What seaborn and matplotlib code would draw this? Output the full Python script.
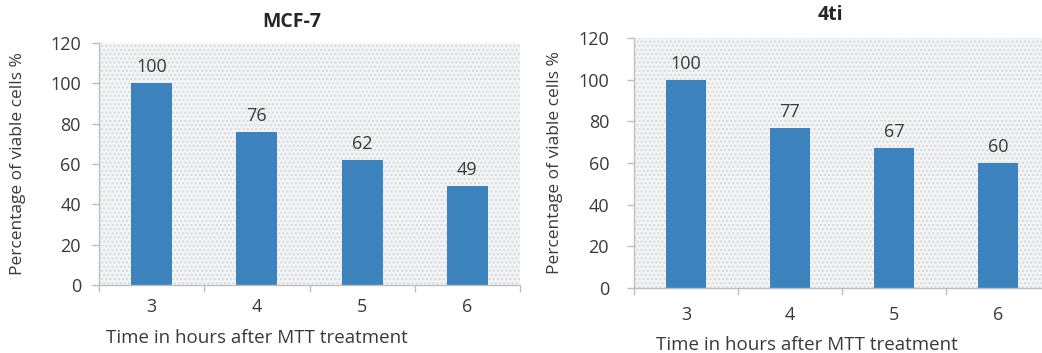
import matplotlib
matplotlib.use("Agg")
import matplotlib.pyplot as plt
import seaborn as sns
import pandas as pd

# Viability data (MTT assay)
hours = ["3", "4", "5", "6"]
mcf7_viability = [100, 76, 62, 49]
ti4_viability = [100, 77, 67, 60]
panel_titles = ["MCF-7", "4ti"]
y_ticks = [0, 20, 40, 60, 80, 100, 120]
x_label = "Time in hours after MTT treatment"
y_label = "Percentage of viable cells %"

sns.set_theme(style="white")
plt.rcParams["font.family"] = ["Open Sans", "DejaVu Sans"]

BAR = "#3c83be"
TXT = "#3a3a3a"
AX = "#bfbfbf"
W, H = 1042, 353

fig = plt.figure(figsize=(W / 100, H / 100), dpi=100)
ax1 = fig.add_axes([99 / W, 1 - 285 / H, 421 / W, (285 - 43) / H])
ax2 = fig.add_axes([634 / W, 1 - 288 / H, 416 / W, (288 - 38) / H])

# axes, values, title pos, y-label x, x-label pos, y tick pad, x tick pad
panels = [
    (ax1, mcf7_viability, panel_titles[0], (292, 22), 18, (257, 338), 8, 9),
    (ax2, ti4_viability, panel_titles[1], (830, 15), 555, (807, 345), 13, 13),
]

for ax, vals, title, tpos, ylx, xlpos, ypad, xpad in panels:
    df = pd.DataFrame({"hour": hours, "viability": vals})
    ax.set_facecolor("#f3f4f6")
    # fine dotted backdrop
    ax.add_patch(plt.Rectangle((0, 0), 1, 1, transform=ax.transAxes,
                               facecolor="none", edgecolor="#d6d9de",
                               hatch="....", lw=0, zorder=0))
    sns.barplot(data=df, x="hour", y="viability", ax=ax, color=BAR,
                width=0.39, saturation=1, edgecolor="none", zorder=2)
    ax.bar_label(ax.containers[0], labels=[str(v) for v in vals],
                 padding=5, fontsize=13, color=TXT)
    ax.set_xlim(-0.5, 3.5)
    ax.set_ylim(0, 120)
    ax.set_yticks(y_ticks)
    ax.set_yticklabels([str(t) for t in y_ticks], fontsize=13, color=TXT)
    ax.set_xticks(range(len(hours)))
    ax.set_xticklabels(hours, fontsize=13, color=TXT)
    ax.set_xticks([-0.5, 0.5, 1.5, 2.5, 3.5], minor=True)
    ax.tick_params(axis="x", which="major", length=0, pad=xpad)
    ax.tick_params(axis="x", which="minor", length=5, color=AX, width=1,
                   direction="out", bottom=True)
    ax.tick_params(axis="y", length=5, color=AX, width=1, direction="out",
                   left=True, pad=ypad)
    ax.set_xlabel("")
    ax.set_ylabel("")
    for side in ["top", "right"]:
        ax.spines[side].set_visible(False)
    for side in ["left", "bottom"]:
        ax.spines[side].set_color(AX)
        ax.spines[side].set_linewidth(1)
    fig.text(tpos[0] / W, 1 - tpos[1] / H, title, ha="center",
             va="center", fontsize=14, fontweight="bold", color="#262626")
    fig.text(ylx / W, ax.get_position().y0 + ax.get_position().height / 2,
             y_label, rotation=90, ha="center", va="center",
             fontsize=12.5, color=TXT)
    fig.text(xlpos[0] / W, 1 - xlpos[1] / H, x_label, ha="center",
             va="center", fontsize=13.5, color=TXT)

fig.savefig("out.png", dpi=100)
